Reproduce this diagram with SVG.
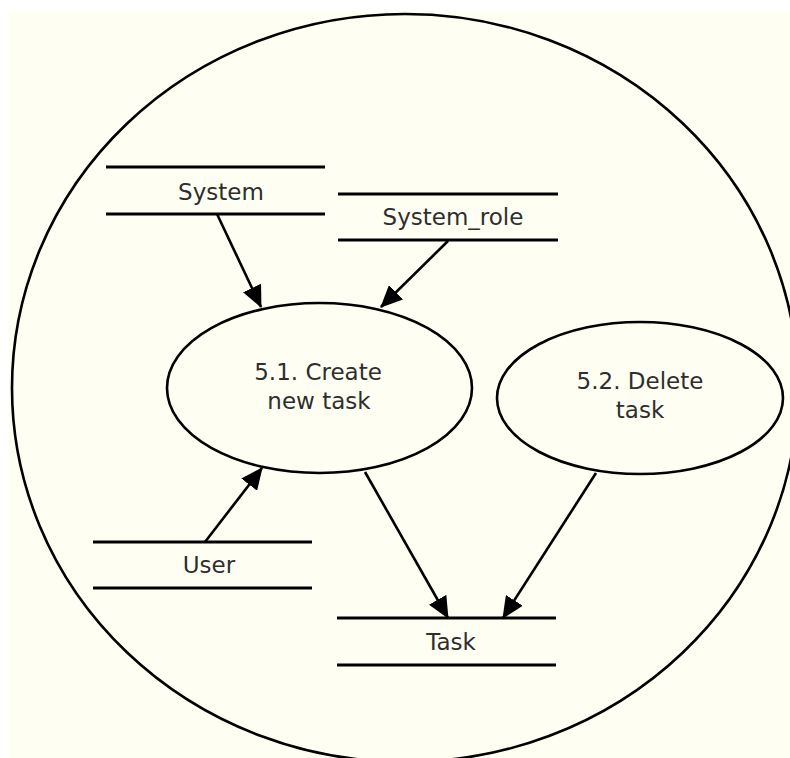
<svg xmlns="http://www.w3.org/2000/svg" width="790" height="758" viewBox="0 0 790 758">
  <defs>
    <style>
      .bg { fill: #fefef2; }
      .shape { fill: none; stroke: #000; stroke-width: 2.6; }
      .store { stroke: #000; stroke-width: 3; fill: none; }
      .conn { stroke: #000; stroke-width: 2.6; fill: none; marker-end: url(#arrow); }
      .lbl { font-family: "DejaVu Sans", "Liberation Sans", sans-serif; font-size: 23px; fill: #2e2e2e; text-anchor: middle; }
    </style>
    <marker id="arrow" viewBox="0 0 22 20" refX="21" refY="10" markerWidth="22" markerHeight="20" markerUnits="userSpaceOnUse" orient="auto">
      <path d="M0,0 L22,10 L0,20 z" fill="#000"/>
    </marker>
  </defs>
  <rect x="0" y="0" width="790" height="758" fill="#ffffff"/>
  <rect class="bg" x="9" y="11" width="781" height="747"/>
  <g id="boundary">
    <ellipse class="shape" cx="405" cy="388" rx="393" ry="374"/>
  </g>
  <g id="store-system">
    <line class="store" x1="106" y1="167" x2="325" y2="167"/>
    <line class="store" x1="106" y1="214" x2="325" y2="214"/>
    <text class="lbl" x="221" y="200">System</text>
  </g>
  <g id="store-system-role">
    <line class="store" x1="338" y1="194" x2="558" y2="194"/>
    <line class="store" x1="338" y1="240" x2="558" y2="240"/>
    <text class="lbl" x="453" y="225">System_role</text>
  </g>
  <g id="store-user">
    <line class="store" x1="93" y1="542" x2="312" y2="542"/>
    <line class="store" x1="93" y1="588" x2="312" y2="588"/>
    <text class="lbl" x="209" y="573">User</text>
  </g>
  <g id="store-task">
    <line class="store" x1="337" y1="618" x2="556" y2="618"/>
    <line class="store" x1="337" y1="665" x2="556" y2="665"/>
    <text class="lbl" x="451" y="650">Task</text>
  </g>
  <g id="process-5-1">
    <ellipse class="shape" cx="319.5" cy="388" rx="152.5" ry="85"/>
    <text class="lbl" x="318" y="380">5.1. Create</text>
    <text class="lbl" x="319" y="409">new task</text>
  </g>
  <g id="process-5-2">
    <ellipse class="shape" cx="640" cy="398" rx="143" ry="76"/>
    <text class="lbl" x="640" y="389">5.2. Delete</text>
    <text class="lbl" x="640" y="418">task</text>
  </g>
  <g id="connectors">
    <line class="conn" x1="217" y1="214" x2="261" y2="307"/>
    <line class="conn" x1="448" y1="241" x2="381" y2="307"/>
    <line class="conn" x1="205" y1="542" x2="262" y2="468"/>
    <line class="conn" x1="365" y1="472" x2="448" y2="618"/>
    <line class="conn" x1="596" y1="473" x2="503" y2="618"/>
  </g>
</svg>
